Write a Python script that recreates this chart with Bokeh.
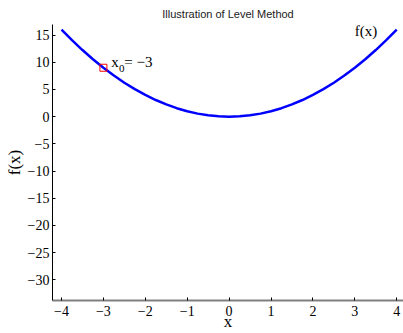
from bokeh.plotting import figure
from bokeh.models import Range1d, FixedTicker, Label
from bokeh.embed import file_html
from bokeh.resources import INLINE

# curve f(x)
x_vals = [-4.0, -3.75, -3.5, -3.25, -3.0, -2.75, -2.5, -2.25, -2.0, -1.75, -1.5, -1.25, -1.0, -0.75, -0.5, -0.25, 0.0,
          0.25, 0.5, 0.75, 1.0, 1.25, 1.5, 1.75, 2.0, 2.25, 2.5, 2.75, 3.0, 3.25, 3.5, 3.75, 4.0]
f_vals = [16.0, 14.0625, 12.25, 10.5625, 9.0, 7.5625, 6.25, 5.0625, 4.0, 3.0625, 2.25, 1.5625, 1.0, 0.5625, 0.25, 0.0625, 0.0,
          0.0625, 0.25, 0.5625, 1.0, 1.5625, 2.25, 3.0625, 4.0, 5.0625, 6.25, 7.5625, 9.0, 10.5625, 12.25, 14.0625, 16.0]

# starting point
x0 = [-3.0]
f0 = [9.0]

x_ticks = [-4, -3, -2, -1, 0, 1, 2, 3, 4]
x_tick_labels = ["\u22124", "\u22123", "\u22122", "\u22121", "0", "1", "2", "3", "4"]
y_ticks = [-30, -25, -20, -15, -10, -5, 0, 5, 10, 15]
y_tick_labels = ["\u221230", "\u221225", "\u221220", "\u221215", "\u221210", "\u22125", "0", "5", "10", "15"]

SERIF = "Liberation Serif"

p = figure(width=403, height=333, output_backend="svg", toolbar_location=None,
           title="Illustration of Level Method",
           x_range=Range1d(-4.215, 4.162), y_range=Range1d(-33.8, 16.95),
           min_border_left=52, min_border_right=0, min_border_top=0, min_border_bottom=32)
p.outline_line_color = None
p.xgrid.visible = False
p.ygrid.visible = False
p.background_fill_color = "white"
p.border_fill_color = "white"

p.title.align = "center"
p.title.text_font = "Liberation Sans"
p.title.text_font_size = "11px"
p.title.text_font_style = "normal"
p.title.text_color = "#1a1a1a"
p.title.standoff = 10

p.line(x_vals, f_vals, line_color="#0000FF", line_width=2.5)
p.scatter(x0, f0, marker="square", size=7, fill_color=None, line_color="#FF0000", line_width=1)

for ax in (p.xaxis[0], p.yaxis[0]):
    ax.major_tick_in = 3
    ax.major_tick_out = 0
    ax.minor_tick_in = 0
    ax.minor_tick_out = 0
    ax.major_label_text_font = SERIF
    ax.major_label_text_font_size = "14px"
    ax.major_label_text_color = "black"
    ax.major_tick_line_color = "black"
    ax.axis_label_text_font = SERIF
    ax.axis_label_text_font_size = "17px"
    ax.axis_label_text_font_style = "normal"
    ax.axis_label_text_color = "black"

p.xaxis[0].ticker = FixedTicker(ticks=x_ticks)
p.xaxis[0].major_label_overrides = {t: l for t, l in zip(x_ticks, x_tick_labels)}
p.xaxis[0].axis_line_color = "#808080"
p.xaxis[0].axis_line_width = 2
p.xaxis[0].major_label_standoff = 5
p.xaxis[0].axis_label = "x"
p.xaxis[0].axis_label_standoff = -7

p.yaxis[0].ticker = FixedTicker(ticks=y_ticks)
p.yaxis[0].major_label_overrides = {t: l for t, l in zip(y_ticks, y_tick_labels)}
p.yaxis[0].axis_line_color = "black"
p.yaxis[0].axis_line_width = 1
p.yaxis[0].major_label_standoff = 3
p.yaxis[0].axis_label = "f(x)"
p.yaxis[0].axis_label_standoff = 1

# annotations
p.add_layout(Label(x=3.0, y=15.7, text="f(x)", text_font=SERIF, text_font_size="15px",
                   text_align="left", text_baseline="middle", text_color="black"))
p.add_layout(Label(x=-2.81, y=10.0, text="x", text_font=SERIF, text_font_size="15px",
                   text_align="left", text_baseline="middle", text_color="black"))
p.add_layout(Label(x=-2.63, y=8.8, text="0", text_font=SERIF, text_font_size="11px",
                   text_align="left", text_baseline="middle", text_color="black"))
p.add_layout(Label(x=-2.5, y=10.0, text="= \u22123", text_font=SERIF, text_font_size="15px",
                   text_align="left", text_baseline="middle", text_color="black"))

open("out.html", "w").write(file_html(p, INLINE))
